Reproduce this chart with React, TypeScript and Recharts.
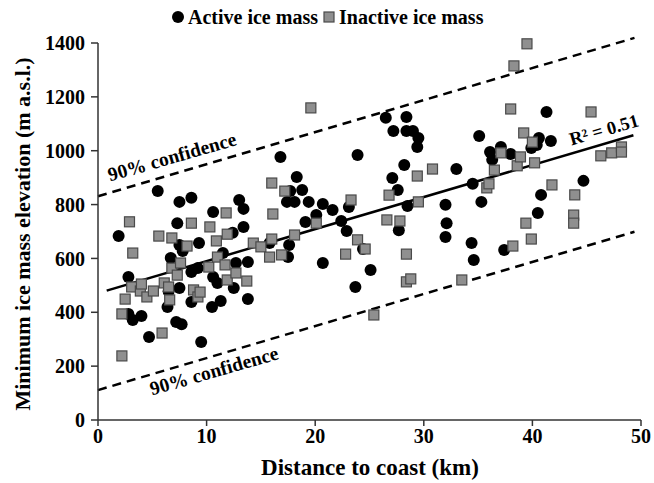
import { ReferenceLine, Scatter, ScatterChart, XAxis, YAxis } from "recharts";

// distance to coast (km), minimum elevation (m a.s.l.)
const activeIce: [number, number][] = [
  [1.9, 683], [2.8, 531], [2.8, 394], [3.2, 371], [4.0, 386], [4.7, 308], [5.5, 850],
  [6.4, 420], [6.5, 478], [6.7, 602], [7.2, 364], [7.3, 731], [7.5, 650], [7.5, 810],
  [7.5, 490], [7.7, 356], [7.8, 628], [8.6, 825], [8.6, 550], [8.6, 438], [9.2, 564],
  [9.3, 657], [9.5, 290], [10.5, 420], [10.6, 772], [10.6, 531], [11.0, 509], [11.3, 442],
  [11.5, 620], [12.4, 695], [12.5, 490], [12.7, 583], [13.0, 817], [13.4, 784], [13.4, 717],
  [13.8, 587], [13.8, 449], [15.8, 657], [16.8, 977], [17.4, 810], [17.5, 605], [17.6, 650],
  [17.7, 850], [18.1, 810], [18.3, 902], [18.8, 854], [19.1, 735], [19.4, 810], [20.1, 761],
  [20.7, 802], [20.7, 583], [21.6, 780], [22.4, 739], [22.9, 702], [23.1, 791], [23.7, 494],
  [23.9, 984], [24.4, 635], [25.1, 557], [26.5, 1122], [27.1, 899], [27.2, 1073], [27.6, 854],
  [27.7, 705], [28.2, 947], [28.4, 1125], [28.4, 1073], [28.5, 795], [29.0, 1073], [29.4, 1014],
  [29.5, 1047], [32.0, 799], [32.0, 680], [32.1, 731], [33.0, 932], [34.4, 657], [34.6, 594],
  [34.5, 877], [35.1, 1055], [35.3, 810], [36.1, 995], [36.3, 966], [37.1, 1014], [37.4, 631],
  [38.0, 988], [39.9, 1010], [40.4, 1021], [40.5, 769], [40.6, 1047], [40.8, 836], [41.3, 1144],
  [41.7, 1036], [44.7, 888],
];

const inactiveIce: [number, number][] = [
  [2.2, 238], [2.2, 394], [2.5, 449], [2.9, 736], [3.1, 494], [3.2, 620], [3.9, 479],
  [4.0, 505], [4.5, 457], [5.1, 479], [5.6, 683], [5.9, 323], [6.1, 509], [6.5, 494],
  [6.6, 446], [6.8, 676], [6.8, 564], [7.3, 538], [7.6, 583], [8.2, 646], [8.6, 731],
  [8.8, 483], [9.2, 457], [9.4, 475], [10.2, 568], [10.3, 717], [10.9, 665], [11.0, 605],
  [11.7, 576], [11.8, 769], [11.9, 690], [11.9, 520], [12.7, 546], [13.7, 516], [14.3, 657],
  [15.0, 643], [15.8, 605], [16.0, 672], [16.0, 880], [16.1, 765], [16.9, 613], [17.2, 850],
  [18.1, 687], [19.6, 1159], [20.1, 731], [22.8, 616], [23.3, 817], [23.9, 669], [24.6, 635],
  [25.4, 390], [26.6, 743], [26.8, 835], [27.8, 739], [28.4, 616], [28.4, 513], [28.8, 524],
  [29.4, 906], [29.5, 810], [30.8, 932], [33.5, 520], [35.8, 862], [36.0, 877], [36.5, 928],
  [37.1, 992], [38.0, 1155], [38.2, 646], [38.3, 1315], [38.6, 944], [38.9, 977], [39.2, 1066],
  [39.4, 731], [39.5, 1397], [39.9, 672], [40.0, 1032], [40.2, 955], [41.8, 873], [43.8, 761],
  [43.8, 731], [43.9, 836], [45.4, 1144], [46.3, 981], [47.3, 992], [48.2, 1014], [48.2, 995],
];

const xTicks = [0, 10, 20, 30, 40, 50];
const yTicks = [0, 200, 400, 600, 800, 1000, 1200, 1400];

// fitted line and 90% band
const fitIntercept = 471;
const fitSlope = 11.9;
const bandHalfWidth = 360;
const fitRange = [0.8, 49.3];
const bandRange = [0, 49.4];

const serif = "'Liberation Serif', 'Times New Roman', serif";
const axisColor = "#333";

const toPoints = (rows: [number, number][]) => rows.map(([x, y]) => ({ x, y }));
const lineAt = (x: number, shift: number) => ({ x, y: fitIntercept + shift + fitSlope * x });

function ActiveDot(props: any) {
  return <circle cx={props.cx} cy={props.cy} r={6} fill="#000" />;
}

function InactiveSquare(props: any) {
  return (
    <rect
      x={props.cx - 5}
      y={props.cy - 5}
      width={10}
      height={10}
      fill="#8f8f8f"
      stroke="#4a4a4a"
      strokeWidth={1.2}
    />
  );
}

export default function App() {
  const tickStyle = { fontFamily: serif, fontSize: 20, fontWeight: 700, fill: "#000" };
  const textStyle = { fontFamily: serif, fontWeight: 700, fill: "#000" };

  return (
    <div style={{ position: "absolute", left: 0, top: 0, width: 654, height: 483, background: "#fff" }}>
      <ScatterChart width={654} height={483} margin={{ top: 43, right: 13, bottom: 0, left: 0 }}>
        <XAxis
          type="number"
          dataKey="x"
          domain={[0, 50]}
          ticks={xTicks}
          height={63}
          tickSize={6}
          tickMargin={3}
          tick={tickStyle}
          stroke={axisColor}
          strokeWidth={1.5}
        />
        <YAxis
          type="number"
          dataKey="y"
          domain={[0, 1400]}
          ticks={yTicks}
          width={98}
          tickSize={7}
          tickMargin={6}
          tick={tickStyle}
          stroke={axisColor}
          strokeWidth={1.5}
        />
        <Scatter data={toPoints(activeIce)} shape={ActiveDot} isAnimationActive={false} />
        <Scatter data={toPoints(inactiveIce)} shape={InactiveSquare} isAnimationActive={false} />
        <ReferenceLine
          segment={[lineAt(bandRange[0], bandHalfWidth), lineAt(bandRange[1], bandHalfWidth)]}
          stroke="#000"
          strokeWidth={2.5}
          strokeDasharray="9 6"
          ifOverflow="visible"
        />
        <ReferenceLine
          segment={[lineAt(bandRange[0], -bandHalfWidth), lineAt(bandRange[1], -bandHalfWidth)]}
          stroke="#000"
          strokeWidth={2.5}
          strokeDasharray="9 6"
          ifOverflow="visible"
        />
        <ReferenceLine
          segment={[lineAt(fitRange[0], 0), lineAt(fitRange[1], 0)]}
          stroke="#000"
          strokeWidth={2.5}
          ifOverflow="visible"
        />
      </ScatterChart>

      <svg width={654} height={483} style={{ position: "absolute", left: 0, top: 0, pointerEvents: "none" }}>
        <text
          {...textStyle}
          fontSize={22}
          textAnchor="middle"
          dominantBaseline="central"
          transform="translate(22 234) rotate(-90)"
        >
          Minimum ice mass elevation (m a.s.l.)
        </text>
        <text {...textStyle} fontSize={23} x={370} y={467} textAnchor="middle" dominantBaseline="central">
          Distance to coast (km)
        </text>
        <text
          {...textStyle}
          fontSize={19.5}
          textAnchor="middle"
          dominantBaseline="central"
          transform="translate(172 157) rotate(-16)"
        >
          90% confidence
        </text>
        <text
          {...textStyle}
          fontSize={19.5}
          textAnchor="middle"
          dominantBaseline="central"
          transform="translate(214 371) rotate(-16)"
        >
          90% confidence
        </text>
        <text
          {...textStyle}
          fontSize={18.5}
          textAnchor="middle"
          dominantBaseline="central"
          transform="translate(604 130) rotate(-16)"
        >
          R² = 0.51
        </text>

        <circle cx={178} cy={17} r={6} fill="#000" />
        <text {...textStyle} fontSize={20} x={188} y={17} dominantBaseline="central">
          Active ice mass
        </text>
        <rect x={324} y={12} width={10} height={10} fill="#8f8f8f" stroke="#4a4a4a" strokeWidth={1.2} />
        <text {...textStyle} fontSize={20} x={339} y={17} dominantBaseline="central">
          Inactive ice mass
        </text>
      </svg>
    </div>
  );
}
